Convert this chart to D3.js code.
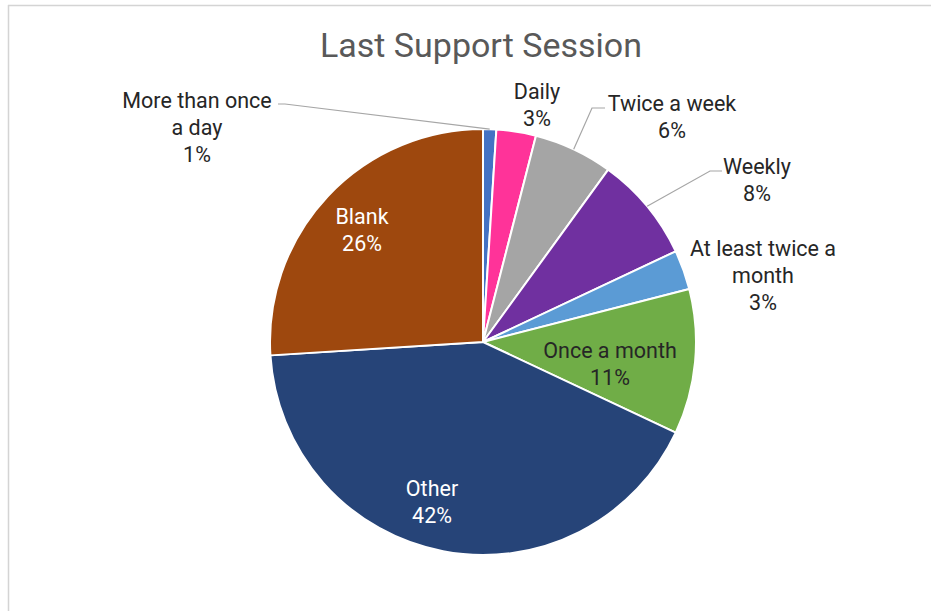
<!DOCTYPE html>
<html>
<head>
<meta charset="utf-8">
<script src="https://cdn.jsdelivr.net/npm/d3@7"></script>
<style>
  html, body { margin: 0; padding: 0; background: #fff; }
  svg { display: block; font-family: Roboto, "Noto Sans", sans-serif; }
</style>
</head>
<body>
<svg id="chart" width="931" height="611"></svg>
<script>
// Session frequency categories, clockwise from 12 o'clock
const categories = [
  "More than once a day", "Daily", "Twice a week", "Weekly",
  "At least twice a month", "Once a month", "Other", "Blank"
];
const shares = [1, 3, 6, 8, 3, 11, 42, 26];
const title = "Last Support Session";

// Styling and label layout
const colors = ["#4472C4", "#FF3399", "#A5A5A5", "#7030A0", "#5B9BD5", "#70AD47", "#264478", "#9E480E"];
const labelLines = [
  ["More than once", "a day"], ["Daily"], ["Twice a week"], ["Weekly"],
  ["At least twice a", "month"], ["Once a month"], ["Other"], ["Blank"]
];
const labelColors = ["#262626", "#262626", "#262626", "#262626", "#262626", "#262626", "#ffffff", "#ffffff"];
// label centre offsets from the pie centre
const labelOffsets = [[-286, -215], [54, -237], [189, -225], [274, -162], [280, -67], [127, 22], [-51, 160], [-121, -112]];
// leader lines: label-side end and the end of its short horizontal stub
const leaders = [
  {from: [-205, -238], stub: [-198, -238]},
  null,
  {from: [122, -234], stub: [109, -234]},
  {from: [239, -171], stub: [227, -171]},
  null, null, null, null
];

const W = 931, H = 611;
const cx = 483, cy = 342, R = 213;
const fontSize = 21.5, lineH = 26.8;

const svg = d3.select("#chart");

// outer frame (top and left edges)
svg.append("line").attr("x1", 8).attr("y1", 5.5).attr("x2", W).attr("y2", 5.5)
  .attr("stroke", "#d4d4d4").attr("stroke-width", 1.5);
svg.append("line").attr("x1", 8.5).attr("y1", 5).attr("x2", 8.5).attr("y2", H)
  .attr("stroke", "#d4d4d4").attr("stroke-width", 1.5);

svg.append("text")
  .attr("x", 481).attr("y", 57)
  .attr("text-anchor", "middle")
  .attr("font-size", 34)
  .attr("fill", "#595959")
  .text(title);

const data = categories.map((c, i) => ({category: c, value: shares[i], i}));
const pie = d3.pie().value(d => d.value).sort(null);
const arc = d3.arc().innerRadius(0).outerRadius(R);
const arcs = pie(data);

const g = svg.append("g").attr("transform", `translate(${cx},${cy})`);

g.selectAll("path.slice")
  .data(arcs)
  .join("path")
  .attr("class", "slice")
  .attr("d", arc)
  .attr("fill", d => colors[d.data.i])
  .attr("stroke", "#fff")
  .attr("stroke-width", 2)
  .attr("stroke-linejoin", "round");

// leader lines from the label stub to the slice edge
arcs.forEach(a => {
  const L = leaders[a.data.i];
  if (!L) return;
  const mid = (a.startAngle + a.endAngle) / 2;
  const px = Math.sin(mid) * R, py = -Math.cos(mid) * R;
  g.append("polyline")
    .attr("points", [L.from, L.stub, [px, py]].map(p => p.join(",")).join(" "))
    .attr("fill", "none")
    .attr("stroke", "#a6a6a6")
    .attr("stroke-width", 1.2);
});

// category and percentage labels
arcs.forEach(a => {
  const i = a.data.i;
  const lines = labelLines[i].concat([d3.format(".0f")(a.data.value) + "%"]);
  const [ox, oy] = labelOffsets[i];
  const top = oy - (lines.length - 1) * lineH / 2;
  const t = g.append("text")
    .attr("text-anchor", "middle")
    .attr("font-size", fontSize)
    .attr("fill", labelColors[i]);
  lines.forEach((s, k) => {
    t.append("tspan")
      .attr("x", ox)
      .attr("y", top + k * lineH + fontSize * 0.36)
      .text(s);
  });
});
</script>
</body>
</html>
